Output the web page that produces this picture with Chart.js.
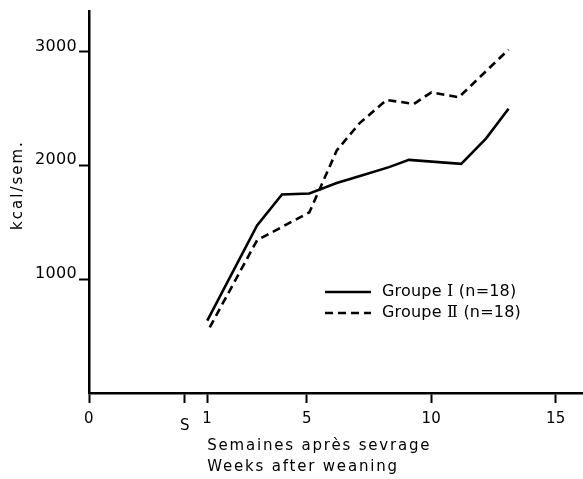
<!DOCTYPE html>
<html>
<head>
<meta charset="utf-8">
<script src="https://cdn.jsdelivr.net/npm/chart.js"></script>
<style>
  html, body { margin: 0; padding: 0; background: #fff; }
  #wrap { width: 583px; height: 479px; }
</style>
</head>
<body>
<div id="wrap"><canvas id="c" width="583" height="479"></canvas></div>
<script>
// ---- data ----
const groupIWeeks   = [1.0, 3.0, 4.0, 5.1, 6.2, 7.2, 8.3, 9.1, 11.2, 12.2, 13.1];
const groupIValues  = [635, 1472, 1743, 1752, 1844, 1910, 1984, 2048, 2013, 2237, 2496];
const groupIIWeeks  = [1.1, 3.0, 5.1, 6.2, 7.1, 8.2, 9.3, 10.0, 11.1, 13.1];
const groupIIValues = [577, 1342, 1587, 2130, 2366, 2574, 2539, 2641, 2597, 3016];
// legend text pieces: [before numeral, numeral, after numeral]
const seriesNameParts = [['Groupe ', '\u2160', ' (n=18)'], ['Groupe ', '\u2161', ' (n=18)']];
const xTickValues   = [-3.75, 0.1, 1, 5, 10, 15];
const xTickLabels   = ['0', 'S', '1', '5', '10', '15'];
const yTickValues   = [1000, 2000, 3000];
const yTitle        = 'kcal/sem.';
const xTitleLines   = ['Semaines après sevrage', 'Weeks after weaning'];

Chart.defaults.font.family = "'DejaVu Sans', sans-serif";
Chart.defaults.font.size = 15;
Chart.defaults.color = '#000';

function toPoints(xs, ys) { return xs.map((x, i) => ({ x: x, y: ys[i] })); }

const extras = {
  id: 'extras',
  beforeDraw(chart) {
    chart.ctx.letterSpacing = '0.3px';
  },
  afterDraw(chart) {
    const ctx = chart.ctx;
    // y-axis title
    ctx.save();
    ctx.letterSpacing = '2px';
    ctx.font = "15px 'DejaVu Sans', sans-serif";
    ctx.fillStyle = '#000';
    ctx.translate(18, 185);
    ctx.rotate(-Math.PI / 2);
    ctx.textAlign = 'center';
    ctx.textBaseline = 'middle';
    ctx.fillText(yTitle, 0, 0);
    ctx.restore();

    // x-axis title (two left-aligned lines)
    ctx.save();
    ctx.letterSpacing = '1.8px';
    ctx.font = "15px 'DejaVu Sans', sans-serif";
    ctx.fillStyle = '#000';
    ctx.textAlign = 'left';
    ctx.textBaseline = 'middle';
    const xs = chart.scales.x.getPixelForValue(1);
    xTitleLines.forEach((t, i) => ctx.fillText(t, xs, 446 + i * 21));
    ctx.restore();

    // legend
    ctx.save();
    ctx.fillStyle = '#000';
    ctx.textAlign = 'left';
    ctx.textBaseline = 'middle';
    chart.data.datasets.forEach((ds, i) => {
      const y = 292 + i * 21;
      ctx.beginPath();
      ctx.lineWidth = ds.borderWidth;
      ctx.strokeStyle = ds.borderColor;
      ctx.setLineDash(ds.borderDash || []);
      ctx.moveTo(325, y);
      ctx.lineTo(371, y);
      ctx.stroke();
      ctx.setLineDash([]);
      const parts = seriesNameParts[i];
      let x = 382;
      ctx.letterSpacing = '0.2px';
      ctx.font = "16px 'DejaVu Sans', sans-serif";
      ctx.fillText(parts[0], x, y);
      x += ctx.measureText(parts[0]).width;
      ctx.font = "16px 'DejaVu Serif', serif";
      ctx.fillText(parts[1], x, y);
      x += ctx.measureText(parts[1]).width;
      ctx.font = "16px 'DejaVu Sans', sans-serif";
      ctx.fillText(parts[2], x, y);
    });
    ctx.restore();
  }
};

new Chart(document.getElementById('c'), {
  type: 'line',
  data: {
    datasets: [
      {
        label: seriesNameParts[0].join(''),
        data: toPoints(groupIWeeks, groupIValues),
        borderColor: '#000',
        borderWidth: 2.6,
        pointRadius: 0,
        tension: 0,
        fill: false
      },
      {
        label: seriesNameParts[1].join(''),
        data: toPoints(groupIIWeeks, groupIIValues),
        borderColor: '#000',
        borderWidth: 2.6,
        borderDash: [8, 5],
        pointRadius: 0,
        tension: 0,
        fill: false
      }
    ]
  },
  options: {
    responsive: false,
    animation: false,
    layout: { padding: { left: 0, right: 1, top: 6, bottom: 0 } },
    plugins: { legend: { display: false }, tooltip: { enabled: false } },
    scales: {
      x: {
        type: 'linear',
        min: -3.75,
        max: 16.05,
        afterBuildTicks: (s) => { s.ticks = xTickValues.map(v => ({ value: v })); },
        afterFit: (s) => { s.height = 86; },
        ticks: {
          autoSkip: false,
          maxRotation: 0,
          minRotation: 0,
          padding: 12.5,
          font: { size: 15, lineHeight: '7px' },
          callback: (v, i) => (xTickLabels[i] === 'S' ? ['', 'S'] : xTickLabels[i])
        },
        grid: { drawOnChartArea: false, drawTicks: true, tickLength: 10, tickWidth: 2, tickColor: '#000' },
        border: { display: true, color: '#000', width: 2.5 }
      },
      y: {
        type: 'linear',
        min: 0,
        max: 3350,
        afterBuildTicks: (s) => { s.ticks = yTickValues.map(v => ({ value: v })); },
        afterFit: (s) => { s.width = 89; },
        ticks: {
          padding: 2,
          labelOffset: -5,
          font: { size: 16 },
          callback: (v) => String(v)
        },
        grid: { drawOnChartArea: false, drawTicks: true, tickLength: 10, tickWidth: 2, tickColor: '#000' },
        border: { display: true, color: '#000', width: 2.5 }
      }
    }
  },
  plugins: [extras]
});
</script>
</body>
</html>
